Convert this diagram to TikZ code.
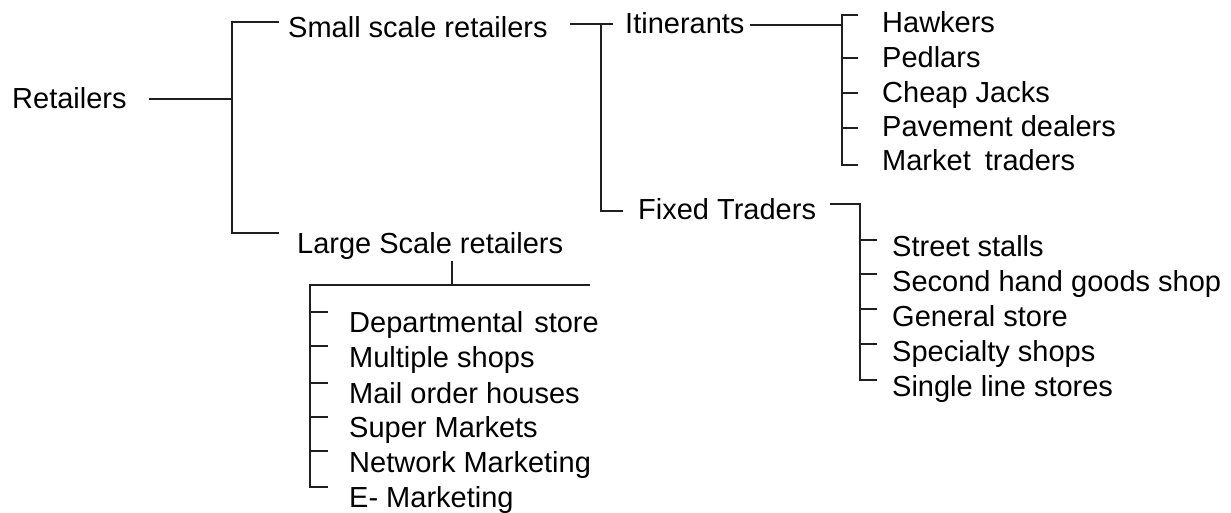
\documentclass[tikz,border=0pt]{standalone}
\usepackage{fontspec}
\setmainfont{Liberation Sans}
\begin{document}
\begin{tikzpicture}[x=1pt,y=-1pt,
  lbl/.style={anchor=west,inner sep=0pt,text height=20.8pt,text depth=0pt,
    font=\fontsize{29}{34}\selectfont,text=black},
  conn/.style={draw=black!88,line width=2.5pt,line join=miter}]
\useasboundingbox (0,0) rectangle (1231,513);
% texts
\node[lbl] (ret) at (12,98) {Retailers};
\node[lbl] (small) at (288,27) {Small scale retailers};
\node[lbl] (large) at (297,243) {Large Scale retailers};
\node[lbl] (itin) at (625,23) {Itinerants};
\node[lbl] (fixed) at (638,209) {Fixed Traders};
\node[lbl] (i1) at (882,22) {Hawkers};
\node[lbl] (i2) at (882,57) {Pedlars};
\node[lbl] (i3) at (882,92) {Cheap Jacks};
\node[lbl] (i4) at (882,126) {Pavement dealers};
\node[lbl] (i5) at (882,160) {Market\hspace{6pt} traders};
\node[lbl] (f1) at (892,246) {Street stalls};
\node[lbl] (f2) at (892,281) {Second hand goods shop};
\node[lbl] (f3) at (892,316) {General store};
\node[lbl] (f4) at (892,351) {Specialty shops};
\node[lbl] (f5) at (892,386) {Single line stores};
\node[lbl] (l1) at (349,322) {Departmental\hspace{3pt} store};
\node[lbl] (l2) at (349,357) {Multiple shops};
\node[lbl] (l3) at (349,393) {Mail order houses};
\node[lbl] (l4) at (349,427) {Super Markets};
\node[lbl] (l5) at (349,462) {Network Marketing};
\node[lbl] (l6) at (349,497) {E- Marketing};
% junction coordinates
\coordinate (rA) at (149,99);
\coordinate (rB) at (232,99);
\coordinate (rT) at (279,22);
\coordinate (rD) at (279,233);
\coordinate (sA) at (570,24);
\coordinate (sB) at (613,24);
\coordinate (sJ) at (601,24);
\coordinate (sD) at (623,211);
\coordinate (iA) at (750,25);
\coordinate (iB) at (842,25);
\coordinate (iT) at (858,15);
\coordinate (iD) at (858,165);
\coordinate (fA) at (830,204);
\coordinate (fB) at (860,204);
\coordinate (fD) at (877,380);
\coordinate (gA) at (452,261);
\coordinate (gB) at (452,285);
\coordinate (gL) at (310,285);
\coordinate (gR) at (590,285);
\coordinate (gD) at (328,487);
% Retailers
\draw[conn] (rA) -- (rB);
\draw[conn] (rT) -| (rD -| rB) -- (rD);
% Small scale
\draw[conn] (sA) -- (sB);
\draw[conn] (sJ) |- (sD);
% Itinerants
\draw[conn] (iA) -- (iB);
\draw[conn] (iT) -| (iD -| iB) -- (iD);
\foreach \y in {58,93,128} \draw[conn] (842,\y) -- (858,\y);
% Fixed traders
\draw[conn] (fA) -- (fB) |- (fD);
\foreach \y in {240,274,309,344} \draw[conn] (860,\y) -- (877,\y);
% Large scale
\draw[conn] (gA) -- (gB);
\draw[conn] (gR) -- (gL) |- (gD);
\foreach \y in {312,346,383,417,451} \draw[conn] (310,\y) -- (328,\y);
\end{tikzpicture}
\end{document}
